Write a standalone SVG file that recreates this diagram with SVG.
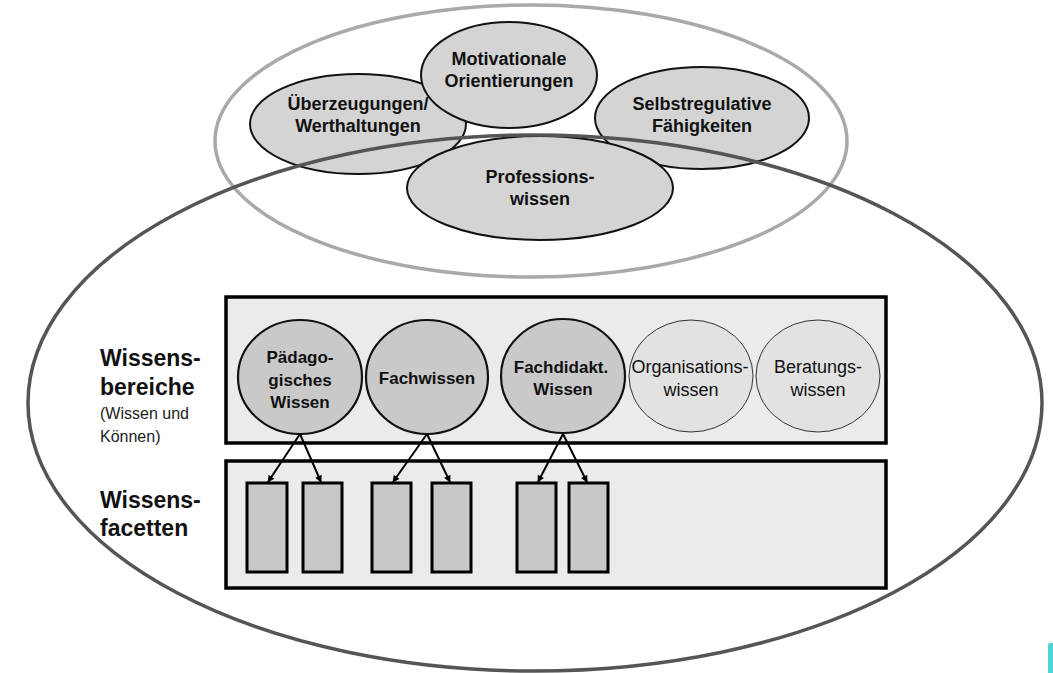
<svg xmlns="http://www.w3.org/2000/svg" width="1053" height="673" viewBox="0 0 1053 673">
<style>
  text { font-family: "Liberation Sans", Arial, sans-serif; fill: #111; text-anchor: middle; }
  .b18 { font-size: 18px; font-weight: bold; }
  .b17 { font-size: 17px; font-weight: bold; }
  .r18 { font-size: 18px; }
  .lab { font-size: 23px; font-weight: bold; text-anchor: start; }
  .labs { font-size: 16px; text-anchor: start; fill: #222; }
  .top { fill: #d4d4d4; stroke: #111; stroke-width: 2; }
  .dom { fill: #c9c9c9; stroke: #111; stroke-width: 2.2; }
  .domlight { fill: #e2e2e2; stroke: #333; stroke-width: 1; }
  .box { fill: #ebebeb; stroke: #000; stroke-width: 3.5; }
  .facet { fill: #c8c8c8; stroke: #000; stroke-width: 3; }
  .conn { stroke: #000; stroke-width: 2; fill: none; marker-end: url(#arr); }
</style>
<defs>
  <marker id="arr" viewBox="0 0 10 10" refX="9" refY="5" markerWidth="8" markerHeight="7" orient="auto" markerUnits="userSpaceOnUse">
    <path d="M0,0 L10,5 L0,10 z" fill="#000"/>
  </marker>
</defs>
<rect width="1053" height="673" fill="#fff"/>

<g id="outer-competence">
  <ellipse cx="531" cy="141" rx="316" ry="136" fill="none" stroke="#a9a9a9" stroke-width="3.5"/>
</g>

<g id="ueberzeugungen">
  <ellipse class="top" cx="358" cy="124" rx="108" ry="50"/>
  <text class="b18" x="358" y="110">Überzeugungen/</text>
  <text class="b18" x="358" y="132">Werthaltungen</text>
</g>
<g id="selbstregulative">
  <ellipse class="top" cx="702" cy="118" rx="107" ry="51"/>
  <text class="b18" x="702" y="110">Selbstregulative</text>
  <text class="b18" x="702" y="132">Fähigkeiten</text>
</g>
<g id="motivationale">
  <ellipse class="top" cx="509" cy="75" rx="88" ry="53"/>
  <text class="b18" x="509" y="65">Motivationale</text>
  <text class="b18" x="509" y="87">Orientierungen</text>
</g>
<g id="professionswissen">
  <ellipse class="top" cx="540" cy="188" rx="133" ry="52"/>
  <text class="b18" x="540" y="183">Professions-</text>
  <text class="b18" x="540" y="205">wissen</text>
</g>

<g id="big-ellipse">
  <ellipse cx="535" cy="403" rx="507" ry="268" fill="none" stroke="#555" stroke-width="3.5"/>
</g>

<g id="label-bereiche">
  <text class="lab" x="100" y="366">Wissens-</text>
  <text class="lab" x="100" y="395">bereiche</text>
  <text class="labs" x="100" y="419">(Wissen und</text>
  <text class="labs" x="100" y="442">Können)</text>
</g>
<g id="label-facetten">
  <text class="lab" x="100" y="508">Wissens-</text>
  <text class="lab" x="100" y="536">facetten</text>
</g>

<g id="box-bereiche">
  <rect class="box" x="226" y="297" width="660" height="146"/>
</g>
<g id="box-facetten">
  <rect class="box" x="226" y="461" width="660" height="127"/>
</g>

<g id="paedagogisches">
  <ellipse class="dom" cx="300" cy="377" rx="62" ry="57"/>
  <text class="b17" x="300" y="363">Pädago-</text>
  <text class="b17" x="300" y="386">gisches</text>
  <text class="b17" x="300" y="408">Wissen</text>
</g>
<g id="fachwissen">
  <ellipse class="dom" cx="427" cy="377" rx="61" ry="57" fill="#c2c2c2"/>
  <text class="b17" x="427" y="384">Fachwissen</text>
</g>
<g id="fachdidaktisch">
  <ellipse class="dom" cx="563" cy="376" rx="62" ry="57"/>
  <text class="b17" x="561" y="373">Fachdidakt.</text>
  <text class="b17" x="563" y="395">Wissen</text>
</g>
<g id="organisation">
  <ellipse class="domlight" cx="691" cy="376" rx="62" ry="56"/>
  <text class="r18" x="690" y="373">Organisations-</text>
  <text class="r18" x="691" y="396">wissen</text>
</g>
<g id="beratung">
  <ellipse class="domlight" cx="818" cy="376" rx="62" ry="56"/>
  <text class="r18" x="818" y="373">Beratungs-</text>
  <text class="r18" x="818" y="396">wissen</text>
</g>

<g id="facets">
  <rect class="facet" x="247" y="483" width="40" height="89"/>
  <rect class="facet" x="303" y="483" width="39" height="89"/>
  <rect class="facet" x="372" y="483" width="39" height="89"/>
  <rect class="facet" x="432" y="483" width="39" height="89"/>
  <rect class="facet" x="517" y="483" width="39" height="89"/>
  <rect class="facet" x="569" y="483" width="39" height="89"/>
</g>

<g id="connectors">
  <line class="conn" x1="300" y1="434" x2="268" y2="482"/>
  <line class="conn" x1="300" y1="434" x2="321" y2="482"/>
  <line class="conn" x1="427" y1="434" x2="393" y2="482"/>
  <line class="conn" x1="427" y1="434" x2="450" y2="482"/>
  <line class="conn" x1="563" y1="434" x2="538" y2="482"/>
  <line class="conn" x1="563" y1="434" x2="587" y2="482"/>
</g>

<path d="M1053,643 L1050,643 Q1048,643 1048,646 L1048,673 L1053,673 Z" fill="#4fd3d6"/>
</svg>
